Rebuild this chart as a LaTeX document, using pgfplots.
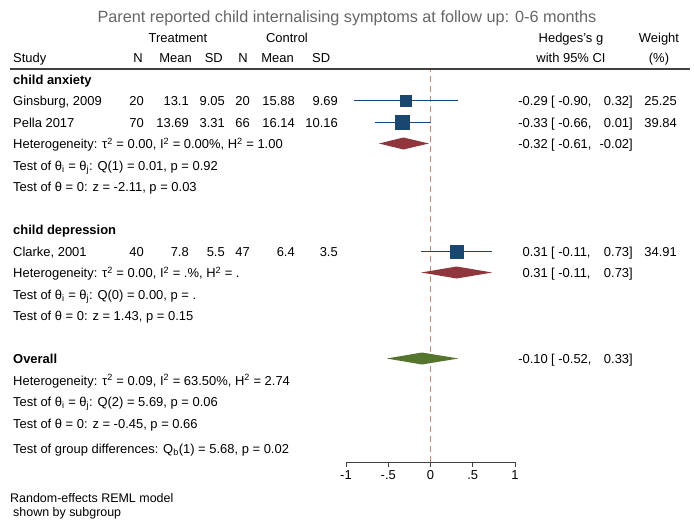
\documentclass[border=0pt]{standalone}
\usepackage{pgfplots}
\pgfplotsset{compat=1.18}
\usepackage{fontspec}
\setmainfont{Liberation Sans}

\definecolor{sqblue}{RGB}{26,71,111}
\definecolor{dmred}{RGB}{144,53,59}
\definecolor{dmgreen}{RGB}{85,117,47}
\definecolor{nullline}{RGB}{190,140,110}

% y = baseline in px from top
\newcommand{\datarow}[7]{%
  \node[anchor=base east] at (144,#1) {#2};
  \node[anchor=base east] at (189,#1) {#3};
  \node[anchor=base east] at (225,#1) {#4};
  \node[anchor=base east] at (250,#1) {#5};
  \node[anchor=base east] at (295,#1) {#6};
  \node[anchor=base east] at (338,#1) {#7};}
\newcommand{\cirow}[5]{%
  \node[anchor=base east] at (548,#1) {#2};
  \node[anchor=base west] at (551,#1) {[ #3,};
  \node[anchor=base east] at (633,#1) {#4]};
  \node[anchor=base east] at (677,#1) {#5};}

\begin{document}
\begin{tikzpicture}
\path[use as bounding box] (0,0) rectangle (694bp,-523bp);

\begin{axis}[
  at={(346bp,-462bp)}, anchor=south west,
  scale only axis, width=169bp, height=392bp,
  xmin=-1, xmax=1, ymin=0, ymax=392,
  axis x line=bottom, axis y line=none,
  x axis line style={-, draw=black!75, line width=0.8bp},
  xtick={-1,-0.5,0,0.5,1}, xticklabels={-1,-.5,0,.5,1},
  tick align=outside, major tick length=5bp,
  tick style={draw=black!75, line width=0.8bp},
  xticklabel style={font=\fontsize{13}{15}\selectfont},
  clip=false,
]
% no-effect line
\addplot[nullline, line width=0.8bp, dash pattern=on 6bp off 4bp] coordinates {(0,0) (0,392)};

% confidence intervals
\addplot[sqblue, line width=0.8bp] coordinates {(-0.90,361.5) (0.32,361.5)};
\addplot[sqblue, line width=0.8bp] coordinates {(-0.66,340) (0.01,340)};
\addplot[sqblue, line width=0.8bp] coordinates {(-0.11,210.5) (0.73,210.5)};

% study estimates, size by weight
\addplot[only marks, mark=square*, mark size=5.5bp, sqblue] coordinates {(-0.29,361.5)};
\addplot[only marks, mark=square*, mark size=7bp, sqblue] coordinates {(-0.33,340)};
\addplot[only marks, mark=square*, mark size=6.5bp, sqblue] coordinates {(0.31,210.5)};

% subgroup and overall diamonds
\addplot[fill=dmred, draw=none] coordinates {(-0.61,318.5) (-0.32,324.5) (-0.02,318.5) (-0.32,312.5)} -- cycle;
\addplot[fill=dmred, draw=none] coordinates {(-0.11,189.5) (0.31,195.5) (0.73,189.5) (0.31,183.5)} -- cycle;
\addplot[fill=dmgreen, draw=none] coordinates {(-0.52,103.5) (-0.10,109.5) (0.33,103.5) (-0.10,97.5)} -- cycle;
\end{axis}

\begin{scope}[x=1bp, y=-1bp, every node/.style={inner sep=0pt, font=\fontsize{13}{15}\selectfont}]
\node[anchor=base, font=\fontsize{16.3}{18}\selectfont, text=black!60] at (347,22)
  {Parent reported child internalising symptoms at follow up: 0-6 months};

% headers
\node[anchor=base] at (178,42.5) {Treatment};
\node[anchor=base] at (287,42.5) {Control};
\node[anchor=base] at (571,42.5) {Hedges's g};
\node[anchor=base] at (659,42.5) {Weight};
\node[anchor=base west] at (13,62) {Study};
\node[anchor=base east] at (143,62) {N};
\node[anchor=base east] at (192,62) {Mean};
\node[anchor=base east] at (223,62) {SD};
\node[anchor=base east] at (248,62) {N};
\node[anchor=base east] at (294,62) {Mean};
\node[anchor=base west] at (312,62) {SD};
\node[anchor=base] at (571,62) {with 95\% CI};
\node[anchor=base] at (659,62) {(\%)};
\draw[black!75, line width=1.2bp] (10,69) -- (690,69);

% child anxiety
\node[anchor=base west, font=\fontsize{13}{15}\selectfont\bfseries] at (13,84) {child anxiety};
\node[anchor=base west] at (13,105.5) {Ginsburg, 2009};
\datarow{105.5}{20}{13.1}{9.05}{20}{15.88}{9.69}
\cirow{105.5}{-0.29}{-0.90}{0.32}{25.25}
\node[anchor=base west] at (13,127) {Pella 2017};
\datarow{127}{70}{13.69}{3.31}{66}{16.14}{10.16}
\cirow{127}{-0.33}{-0.66}{0.01}{39.84}
\node[anchor=base west] at (13,148.5) {Heterogeneity: τ\textsuperscript{2} = 0.00, I\textsuperscript{2} = 0.00\%, H\textsuperscript{2} = 1.00};
\cirow{148.5}{-0.32}{-0.61}{-0.02}{}
\node[anchor=base west] at (13,170) {Test of θ\textsubscript{i} = θ\textsubscript{j}: Q(1) = 0.01, p = 0.92};
\node[anchor=base west] at (13,191.5) {Test of θ = 0: z = -2.11, p = 0.03};

% child depression
\node[anchor=base west, font=\fontsize{13}{15}\selectfont\bfseries] at (13,234) {child depression};
\node[anchor=base west] at (13,256) {Clarke, 2001};
\datarow{256}{40}{7.8}{5.5}{47}{6.4}{3.5}
\cirow{256}{0.31}{-0.11}{0.73}{34.91}
\node[anchor=base west] at (13,277.5) {Heterogeneity: τ\textsuperscript{2} = 0.00, I\textsuperscript{2} = .\%, H\textsuperscript{2} = .};
\cirow{277.5}{0.31}{-0.11}{0.73}{}
\node[anchor=base west] at (13,299) {Test of θ\textsubscript{i} = θ\textsubscript{j}: Q(0) = 0.00, p = .};
\node[anchor=base west] at (13,320.5) {Test of θ = 0: z = 1.43, p = 0.15};

% overall
\node[anchor=base west, font=\fontsize{13}{15}\selectfont\bfseries] at (13,363) {Overall};
\cirow{363}{-0.10}{-0.52}{0.33}{}
\node[anchor=base west] at (13,385) {Heterogeneity: τ\textsuperscript{2} = 0.09, I\textsuperscript{2} = 63.50\%, H\textsuperscript{2} = 2.74};
\node[anchor=base west] at (13,406.5) {Test of θ\textsubscript{i} = θ\textsubscript{j}: Q(2) = 5.69, p = 0.06};
\node[anchor=base west] at (13,428) {Test of θ = 0: z = -0.45, p = 0.66};
\node[anchor=base west] at (13,453) {Test of group differences: Q\textsubscript{b}(1) = 5.68, p = 0.02};

\node[anchor=base west, font=\fontsize{12.5}{14}\selectfont] at (10,502.5) {Random-effects REML model};
\node[anchor=base west, font=\fontsize{12.5}{14}\selectfont] at (13,516.5) {shown by subgroup};
\end{scope}
\end{tikzpicture}
\end{document}
